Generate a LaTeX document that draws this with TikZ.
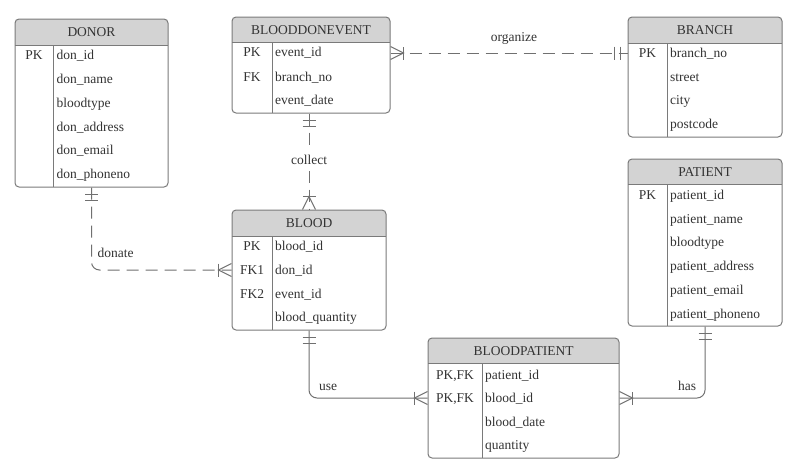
\documentclass[tikz,border=0pt]{standalone}
\usepackage{fontspec}
\setmainfont{Liberation Serif}
\usetikzlibrary{fit}
\definecolor{lin}{HTML}{707070}
\definecolor{brd}{HTML}{7A7A7A}
\definecolor{hdr}{HTML}{D3D3D3}
\definecolor{txt}{HTML}{333333}
\tikzset{
  tbox/.style={draw=brd, line width=1pt, rounded corners=4pt, inner sep=0pt},
  hdrfill/.style={fill=hdr, rounded corners=4pt},
  ttl/.style={font=\fontsize{13.5}{15}\selectfont, text=txt, inner sep=0pt, anchor=base},
  fld/.style={font=\fontsize{13.5}{15}\selectfont, text=txt, inner sep=0pt, anchor=base west},
  key/.style={font=\fontsize{13.5}{15}\selectfont, text=txt, inner sep=0pt, anchor=base},
  rel/.style={draw=lin, line width=1pt},
  reldash/.style={rel, dash pattern=on 12pt off 7pt},
  lbl/.style={font=\fontsize{13.5}{15}\selectfont, text=txt, inner sep=0pt},
  crowbar/.pic={\draw[rel] (0,-6.5) -- (-13,0) -- (0,6.5); \draw[rel] (-13,-6.5) -- (-13,6.5);},
  twobar/.pic={\draw[rel] (-7,-6.5) -- (-7,6.5); \draw[rel] (-13,-6.5) -- (-13,6.5);},
}
% name, L, T, R, B, header bottom, divider x, title
\newcommand\ertable[8]{%
  \begin{scope}
    \clip (#2,#3) rectangle (#4,#6);
    \fill[hdrfill] (#2,#3) rectangle (#4,#5);
  \end{scope}
  \node[tbox, fit={(#2,#3) (#4,#5)}] (#1) {};
  \draw[draw=brd, line width=1pt] (#2,#6) -- (#4,#6) (#7,#6) -- (#7,#5);
  \node[ttl] (#1-t) at ({(#2+#4)/2},{(#3+#6)/2+4.5}) {#8};
}
\begin{document}
\begin{tikzpicture}[x=1pt,y=-1pt]
\useasboundingbox (0,0) rectangle (791,467);
\fill[white] (0,0) rectangle (791,467);

% DONOR
\ertable{donor}{15}{19}{168}{187}{45}{53}{DONOR}
\node[key] (donor-k1) at (34,59.5) {PK};
\node[fld] (donor-f1) at (56.5,59.5) {don\_id};
\node[fld] (donor-f2) at (56.5,83.5) {don\_name};
\node[fld] (donor-f3) at (56.5,107.5) {bloodtype};
\node[fld] (donor-f4) at (56.5,131.5) {don\_address};
\node[fld] (donor-f5) at (56.5,154.5) {don\_email};
\node[fld] (donor-f6) at (56.5,178.5) {don\_phoneno};

% BLOODDONEVENT
\ertable{bde}{232}{17}{390}{113}{42}{272}{BLOODDONEVENT}
\node[key] (bde-k1) at (252,56.5) {PK};
\node[key] (bde-k2) at (252,81) {FK};
\node[fld] (bde-f1) at (275,56.5) {event\_id};
\node[fld] (bde-f2) at (275,81) {branch\_no};
\node[fld] (bde-f3) at (275,104.5) {event\_date};
\coordinate (bde-r1) at (252,53);

% BRANCH
\ertable{branch}{628}{17}{782}{137}{43}{667}{BRANCH}
\node[key] (branch-k1) at (647.5,57.5) {PK};
\node[fld] (branch-f1) at (670,57.5) {branch\_no};
\node[fld] (branch-f2) at (670,81.5) {street};
\node[fld] (branch-f3) at (670,104.5) {city};
\node[fld] (branch-f4) at (670,128.5) {postcode};

% PATIENT
\ertable{patient}{628}{159}{782}{326}{184}{667}{PATIENT}
\node[key] (patient-k1) at (647.5,199.5) {PK};
\node[fld] (patient-f1) at (670,199.5) {patient\_id};
\node[fld] (patient-f2) at (670,223.5) {patient\_name};
\node[fld] (patient-f3) at (670,246.5) {bloodtype};
\node[fld] (patient-f4) at (670,270.5) {patient\_address};
\node[fld] (patient-f5) at (670,294.5) {patient\_email};
\node[fld] (patient-f6) at (670,318.5) {patient\_phoneno};

% BLOOD
\ertable{blood}{232}{210}{386}{330}{236}{272}{BLOOD}
\node[key] (blood-k1) at (252,250.5) {PK};
\node[key] (blood-k2) at (252,274.5) {FK1};
\node[key] (blood-k3) at (252,298.5) {FK2};
\node[fld] (blood-f1) at (275,250.5) {blood\_id};
\node[fld] (blood-f2) at (275,274.5) {don\_id};
\node[fld] (blood-f3) at (275,298.5) {event\_id};
\node[fld] (blood-f4) at (275,321.5) {blood\_quantity};
\coordinate (blood-r2) at (252,270);

% BLOODPATIENT
\ertable{bp}{428}{338}{619}{458}{363}{482}{BLOODPATIENT}
\node[key] (bp-k1) at (455,379.5) {PK,FK};
\node[key] (bp-k2) at (455,402.5) {PK,FK};
\node[fld] (bp-f1) at (485,379.5) {patient\_id};
\node[fld] (bp-f2) at (485,402.5) {blood\_id};
\node[fld] (bp-f3) at (485,426.5) {blood\_date};
\node[fld] (bp-f4) at (485,449.5) {quantity};
\coordinate (bp-r2) at (455,398);

% organize
\draw[reldash] (bde.east |- bde-r1) -- (branch.west |- bde-r1);
\pic[rotate=180] at (bde.east |- bde-r1) {crowbar};
\pic at (branch.west |- bde-r1) {twobar};
\node[lbl, anchor=base] (l-org) at (514,41.5) {organize};

% collect
\draw[reldash] (bde.south -| blood.north) -- (blood.north);
\pic[rotate=90] at (bde.south -| blood.north) {twobar};
\pic[rotate=-90] at (blood.north) {crowbar};
\node[lbl, anchor=base, fill=white, inner xsep=2pt, inner ysep=6pt] (l-col) at (309,164.5) {collect};

% donate
\draw[reldash, rounded corners=8pt] (donor.south) |- (blood.west |- blood-r2);
\pic[rotate=90] at (donor.south) {twobar};
\pic at (blood.west |- blood-r2) {crowbar};
\node[lbl, anchor=base west] (l-don) at (97.5,257.5) {donate};

% use
\draw[rel, rounded corners=8pt] (blood.south) |- (bp.west |- bp-r2);
\pic[rotate=90] at (blood.south) {twobar};
\pic at (bp.west |- bp-r2) {crowbar};
\node[lbl, anchor=base west] (l-use) at (319,390.5) {use};

% has
\draw[rel, rounded corners=8pt] (patient.south) |- (bp.east |- bp-r2);
\pic[rotate=90] at (patient.south) {twobar};
\pic[rotate=180] at (bp.east |- bp-r2) {crowbar};
\node[lbl, anchor=base] (l-has) at (687,390.5) {has};
\end{tikzpicture}
\end{document}
